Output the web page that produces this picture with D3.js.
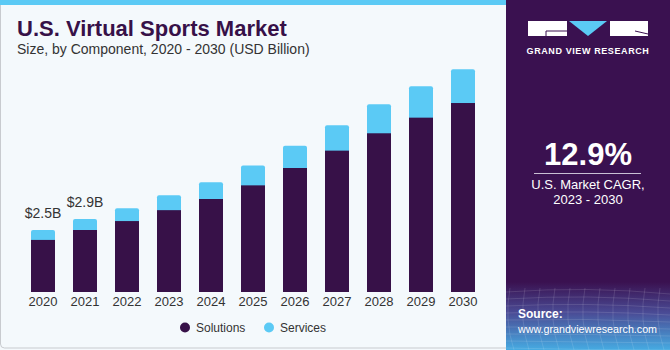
<!DOCTYPE html>
<html>
<head>
<meta charset="utf-8">
<script src="https://cdn.jsdelivr.net/npm/d3@7"></script>
<style>
  body { margin: 0; background: #fff; }
  svg { display: block; font-family: "Liberation Sans", Arial, sans-serif; }
</style>
</head>
<body>
<div id="chart"></div>
<script>
const years = ["2020", "2021", "2022", "2023", "2024", "2025", "2026", "2027", "2028", "2029", "2030"];
const solutions = [2.1, 2.5, 2.86, 3.3, 3.75, 4.3, 5.0, 5.7, 6.4, 7.03, 7.62];
const services = [0.4, 0.44, 0.52, 0.6, 0.68, 0.8, 0.9, 1.02, 1.17, 1.27, 1.36];
const valueLabels = { "2020": "$2.5B", "2021": "$2.9B" };
const seriesNames = ["Solutions", "Services"];

const W = 670, H = 350;
const colors = { solutions: "#371148", services: "#5bcaf5", panel: "#3a1150", bg: "#f4f9fc", text: "#333" };

const svg = d3.select("#chart").append("svg").attr("width", W).attr("height", H);

// left panel
svg.append("rect").attr("x", 0).attr("y", 0).attr("width", 506).attr("height", H).attr("fill", colors.bg);
svg.append("rect").attr("x", 0.5).attr("y", -6).attr("width", 510).attr("height", 354)
  .attr("rx", 4).attr("fill", "none").attr("stroke", "#c8cbcf");
svg.append("rect").attr("x", 0).attr("y", 0).attr("width", 506).attr("height", 5).attr("fill", colors.services);

// right panel
const defs = svg.append("defs");
const grad = defs.append("linearGradient").attr("id", "srcGrad").attr("x1", 0).attr("y1", 0).attr("x2", 0).attr("y2", 1);
grad.append("stop").attr("offset", "0%").attr("stop-color", colors.panel);
grad.append("stop").attr("offset", "45%").attr("stop-color", "#4a4b95");
grad.append("stop").attr("offset", "100%").attr("stop-color", "#46abe2");

svg.append("rect").attr("x", 506).attr("y", 0).attr("width", W - 506).attr("height", H).attr("fill", colors.panel);
svg.append("rect").attr("x", 506).attr("y", 282).attr("width", W - 506).attr("height", H - 282).attr("fill", "url(#srcGrad)");

// faint mesh in the source box
const mesh = svg.append("g").attr("stroke", "#ffffff").attr("stroke-opacity", 0.12).attr("fill", "none");
d3.range(0, 9).forEach(i => {
  mesh.append("path").attr("d", `M506,${292 + i * 7} Q588,${286 + i * 8} 670,${294 + i * 7}`);
});
d3.range(0, 12).forEach(i => {
  const x = 510 + i * 15;
  mesh.append("path").attr("d", `M${x},288 Q${x - 6},320 ${x + 4},350`);
});

// logo
const logo = svg.append("g");
logo.append("rect").attr("x", 528).attr("y", 21).attr("width", 39).attr("height", 15).attr("fill", "#fff");
logo.append("path").attr("d", "M546,31 H567 M546,31 V36").attr("stroke", colors.panel).attr("stroke-width", 1);
logo.append("path").attr("d", "M569,21 H607 L588,36 Z").attr("fill", colors.services);
logo.append("rect").attr("x", 610).attr("y", 21).attr("width", 38).attr("height", 15).attr("fill", "#fff");
logo.append("path").attr("d", "M635,31 L648,34").attr("stroke", colors.panel).attr("stroke-width", 1);
logo.append("text").attr("x", 588).attr("y", 54).attr("text-anchor", "middle")
  .attr("fill", "#fff").attr("font-size", 9).attr("font-weight", "bold").attr("letter-spacing", 0.6)
  .text("GRAND VIEW RESEARCH");

// CAGR
svg.append("text").attr("x", 588).attr("y", 165).attr("text-anchor", "middle")
  .attr("fill", "#fff").attr("font-size", 31).attr("font-weight", "bold").text("12.9%");
svg.append("line").attr("x1", 534).attr("x2", 641).attr("y1", 173.5).attr("y2", 173.5)
  .attr("stroke", "#c9bfd4").attr("stroke-width", 1);
svg.append("text").attr("x", 588).attr("y", 189).attr("text-anchor", "middle")
  .attr("fill", "#fff").attr("font-size", 13).text("U.S. Market CAGR,");
svg.append("text").attr("x", 588).attr("y", 204).attr("text-anchor", "middle")
  .attr("fill", "#fff").attr("font-size", 13).text("2023 - 2030");

// source
svg.append("text").attr("x", 518).attr("y", 318).attr("fill", "#fff")
  .attr("font-size", 12).attr("font-weight", "bold").text("Source:");
svg.append("text").attr("x", 518).attr("y", 333).attr("fill", "#fff")
  .attr("font-size", 11.5).attr("textLength", 139).attr("lengthAdjust", "spacingAndGlyphs")
  .text("www.grandviewresearch.com");

// titles
svg.append("text").attr("x", 17).attr("y", 36).attr("fill", colors.solutions)
  .attr("font-size", 22).attr("font-weight", "bold").text("U.S. Virtual Sports Market");
svg.append("text").attr("x", 17).attr("y", 54).attr("fill", colors.text)
  .attr("font-size", 14).text("Size, by Component, 2020 - 2030 (USD Billion)");

// scales
const x = d3.scaleBand().domain(years).range([13, 493]).padding(0.4286);
const y = d3.scaleLinear().domain([0, 10]).range([292, 44]);

const data = years.map((yr, i) => ({ year: yr, sol: solutions[i], ser: services[i] }));

const bars = svg.append("g");
// services (top, rounded)
bars.selectAll("rect.ser").data(data).join("rect").attr("class", "ser")
  .attr("x", d => x(d.year)).attr("width", x.bandwidth())
  .attr("y", d => y(d.sol + d.ser)).attr("height", d => y(0) - y(d.sol + d.ser))
  .attr("rx", 2).attr("fill", colors.services);
// solutions
bars.selectAll("rect.sol").data(data).join("rect").attr("class", "sol")
  .attr("x", d => x(d.year)).attr("width", x.bandwidth())
  .attr("y", d => y(d.sol)).attr("height", d => y(0) - y(d.sol))
  .attr("fill", colors.solutions);

// value labels
svg.append("g").selectAll("text").data(data.filter(d => valueLabels[d.year])).join("text")
  .attr("x", d => x(d.year) + x.bandwidth() / 2)
  .attr("y", d => y(d.sol + d.ser) - 12)
  .attr("text-anchor", "middle").attr("fill", colors.text).attr("font-size", 14)
  .text(d => valueLabels[d.year]);

// x axis
const xAxis = svg.append("g").attr("transform", `translate(0,${y(0)})`)
  .call(d3.axisBottom(x).tickSize(0).tickPadding(5));
xAxis.select(".domain").remove();
xAxis.selectAll("text").attr("font-size", 13).attr("fill", colors.text)
  .attr("font-family", "Liberation Sans, Arial, sans-serif");

// legend
const legend = svg.append("g");
const legendX = [185, 269];
seriesNames.forEach((name, i) => {
  legend.append("circle").attr("cx", legendX[i]).attr("cy", 327.5).attr("r", 5)
    .attr("fill", i === 0 ? colors.solutions : colors.services);
  legend.append("text").attr("x", legendX[i] + 11).attr("y", 332).attr("font-size", 12)
    .attr("fill", colors.text).text(name);
});
</script>
</body>
</html>
